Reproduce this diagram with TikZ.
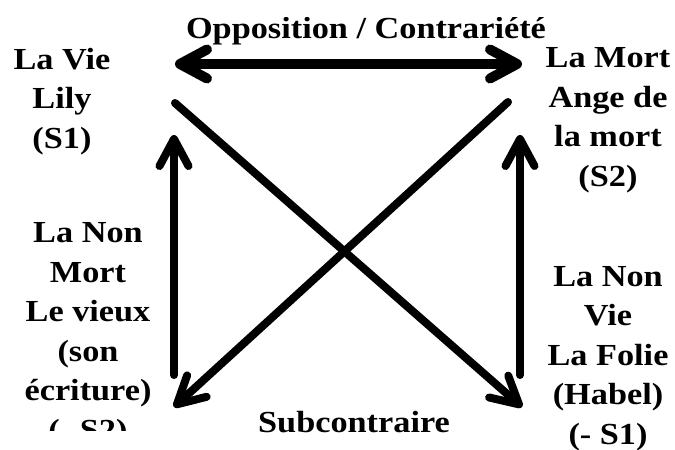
\documentclass[tikz,border=0pt]{standalone}
\usepackage{fontspec}
\setmainfont{Liberation Serif}[FakeStretch=1.12]
\usetikzlibrary{arrows.meta, positioning}

\begin{document}
\begin{tikzpicture}[x=1pt, y=-1pt,
                  >= {Straight Barb[length=27pt, width=29pt, round]},
every node/.style = {font=\bfseries\fontsize{30.6}{39.5}\selectfont, align=center, inner sep=0pt},
       term/.style = {anchor=base},
        arr/.style = {line width=8pt, ->, line cap=round}
                    ]
\useasboundingbox (0,0) rectangle (675,450);
% les quatre termes (base = derniere ligne)
\node (vie)  [term] at (62,148)  {La Vie\\Lily\\(S1)};
\node (mort) [term] at (608,186) {La Mort\\Ange de\\la mort\\(S2)};
\begin{scope}
\clip (0,0) rectangle (300,430);
\node (nonmort) [term] at (88,440) {La Non\\Mort\\Le vieux\\(son\\écriture)\\(- S2)};
\end{scope}
\node (nonvie) [term] at (608,444) {La Non\\Vie\\La Folie\\(Habel)\\(- S1)};
% relations
\begin{scope}
\clip (0,17) rectangle (675,450);
\node (oppos) [term] at (366,38) {Opposition / Contrariété};
\end{scope}
\node (subco) [term] at (354,432) {Subcontraire};
% bouts des fleches
\coordinate (h1) at (175,64);  \coordinate (h2) at (522,64);
\coordinate (d1) at (175,103); \coordinate (d2) at (522,407);
\coordinate (e1) at (508,102); \coordinate (e2) at (174,407);
\coordinate (g1) at (174,375); \coordinate (g2) at (174,135);
\coordinate (r1) at (520,375); \coordinate (r2) at (520,135);
\draw[arr, <->, line width=10pt] (h1) -- (h2);
\draw[arr] (d1) -- (d2);
\draw[arr] (e1) -- (e2);
\draw[arr] (g1) -- (g2);
\draw[arr] (r1) -- (r2);
\end{tikzpicture}
\end{document}
